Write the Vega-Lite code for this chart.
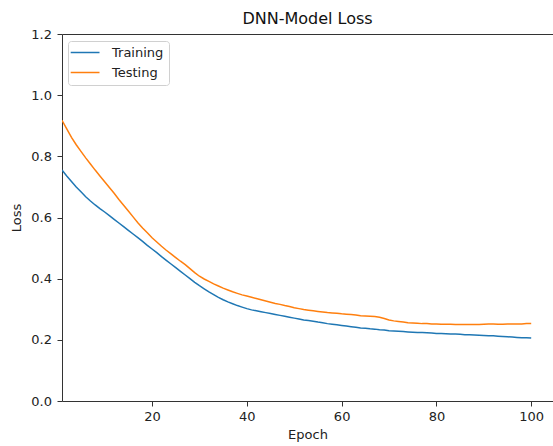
{
  "$schema": "https://vega.github.io/schema/vega-lite/v6.json",
  "autosize": {"type": "none"},
  "padding": {"left": 62, "top": 34, "right": 0, "bottom": 45},
  "width": 491,
  "height": 367,
  "background": "white",
  "title": {"text": "DNN-Model Loss", "fontSize": 16, "font": "DejaVu Sans", "fontWeight": "normal", "color": "#111", "offset": 1},
  "config": {"view": {"stroke": null}},
  "data": {"values": [
    {"epoch":1,"Training":0.755,"Testing":0.918},{"epoch":2,"Training":0.736,"Testing":0.890},{"epoch":3,"Training":0.718,"Testing":0.862},{"epoch":4,"Training":0.700,"Testing":0.838},{"epoch":5,"Training":0.684,"Testing":0.816},
    {"epoch":6,"Training":0.668,"Testing":0.795},{"epoch":7,"Training":0.654,"Testing":0.775},{"epoch":8,"Training":0.641,"Testing":0.755},{"epoch":9,"Training":0.629,"Testing":0.736},{"epoch":10,"Training":0.618,"Testing":0.717},
    {"epoch":11,"Training":0.606,"Testing":0.698},{"epoch":12,"Training":0.594,"Testing":0.679},{"epoch":13,"Training":0.582,"Testing":0.659},{"epoch":14,"Training":0.570,"Testing":0.640},{"epoch":15,"Training":0.558,"Testing":0.621},
    {"epoch":16,"Training":0.546,"Testing":0.602},{"epoch":17,"Training":0.534,"Testing":0.583},{"epoch":18,"Training":0.522,"Testing":0.566},{"epoch":19,"Training":0.509,"Testing":0.550},{"epoch":20,"Training":0.497,"Testing":0.534},
    {"epoch":21,"Training":0.485,"Testing":0.520},{"epoch":22,"Training":0.472,"Testing":0.506},{"epoch":23,"Training":0.460,"Testing":0.493},{"epoch":24,"Training":0.448,"Testing":0.481},{"epoch":25,"Training":0.436,"Testing":0.469},
    {"epoch":26,"Training":0.424,"Testing":0.457},{"epoch":27,"Training":0.412,"Testing":0.446},{"epoch":28,"Training":0.400,"Testing":0.433},{"epoch":29,"Training":0.388,"Testing":0.420},{"epoch":30,"Training":0.377,"Testing":0.408},
    {"epoch":31,"Training":0.367,"Testing":0.399},{"epoch":32,"Training":0.357,"Testing":0.391},{"epoch":33,"Training":0.348,"Testing":0.383},{"epoch":34,"Training":0.339,"Testing":0.376},{"epoch":35,"Training":0.331,"Testing":0.369},
    {"epoch":36,"Training":0.324,"Testing":0.363},{"epoch":37,"Training":0.318,"Testing":0.357},{"epoch":38,"Training":0.312,"Testing":0.352},{"epoch":39,"Training":0.307,"Testing":0.347},{"epoch":40,"Training":0.302,"Testing":0.343},
    {"epoch":41,"Training":0.298,"Testing":0.339},{"epoch":42,"Training":0.295,"Testing":0.335},{"epoch":43,"Training":0.292,"Testing":0.331},{"epoch":44,"Training":0.289,"Testing":0.327},{"epoch":45,"Training":0.286,"Testing":0.323},
    {"epoch":46,"Training":0.283,"Testing":0.319},{"epoch":47,"Training":0.280,"Testing":0.316},{"epoch":48,"Training":0.277,"Testing":0.312},{"epoch":49,"Training":0.274,"Testing":0.309},{"epoch":50,"Training":0.271,"Testing":0.305},
    {"epoch":51,"Training":0.268,"Testing":0.302},{"epoch":52,"Training":0.265,"Testing":0.299},{"epoch":53,"Training":0.263,"Testing":0.297},{"epoch":54,"Training":0.261,"Testing":0.295},{"epoch":55,"Training":0.258,"Testing":0.293},
    {"epoch":56,"Training":0.256,"Testing":0.291},{"epoch":57,"Training":0.253,"Testing":0.289},{"epoch":58,"Training":0.251,"Testing":0.288},{"epoch":59,"Training":0.249,"Testing":0.287},{"epoch":60,"Training":0.247,"Testing":0.285},
    {"epoch":61,"Training":0.245,"Testing":0.284},{"epoch":62,"Training":0.243,"Testing":0.283},{"epoch":63,"Training":0.241,"Testing":0.281},{"epoch":64,"Training":0.239,"Testing":0.279},{"epoch":65,"Training":0.238,"Testing":0.278},
    {"epoch":66,"Training":0.236,"Testing":0.277},{"epoch":67,"Training":0.235,"Testing":0.276},{"epoch":68,"Training":0.233,"Testing":0.274},{"epoch":69,"Training":0.232,"Testing":0.270},{"epoch":70,"Training":0.230,"Testing":0.265},
    {"epoch":71,"Training":0.229,"Testing":0.262},{"epoch":72,"Training":0.228,"Testing":0.260},{"epoch":73,"Training":0.227,"Testing":0.258},{"epoch":74,"Training":0.226,"Testing":0.256},{"epoch":75,"Training":0.225,"Testing":0.255},
    {"epoch":76,"Training":0.224,"Testing":0.254},{"epoch":77,"Training":0.224,"Testing":0.253},{"epoch":78,"Training":0.223,"Testing":0.253},{"epoch":79,"Training":0.222,"Testing":0.252},{"epoch":80,"Training":0.221,"Testing":0.252},
    {"epoch":81,"Training":0.221,"Testing":0.251},{"epoch":82,"Training":0.220,"Testing":0.251},{"epoch":83,"Training":0.219,"Testing":0.251},{"epoch":84,"Training":0.219,"Testing":0.250},{"epoch":85,"Training":0.218,"Testing":0.250},
    {"epoch":86,"Training":0.217,"Testing":0.250},{"epoch":87,"Training":0.217,"Testing":0.250},{"epoch":88,"Training":0.216,"Testing":0.250},{"epoch":89,"Training":0.215,"Testing":0.250},{"epoch":90,"Training":0.214,"Testing":0.251},
    {"epoch":91,"Training":0.213,"Testing":0.252},{"epoch":92,"Training":0.213,"Testing":0.252},{"epoch":93,"Training":0.212,"Testing":0.251},{"epoch":94,"Training":0.211,"Testing":0.251},{"epoch":95,"Training":0.210,"Testing":0.252},
    {"epoch":96,"Training":0.209,"Testing":0.252},{"epoch":97,"Training":0.208,"Testing":0.252},{"epoch":98,"Training":0.207,"Testing":0.252},{"epoch":99,"Training":0.207,"Testing":0.253},{"epoch":100,"Training":0.206,"Testing":0.253}
  ]},
  "transform": [{"fold": ["Training", "Testing"], "as": ["series", "loss"]}],
  "layer": [
    {
      "mark": {"type": "line", "strokeWidth": 1.5, "clip": true},
      "encoding": {
        "x": {"field": "epoch", "type": "quantitative",
          "scale": {"domain": [1, 104.6], "nice": false, "zero": false},
          "axis": {"values": [20, 40, 60, 80, 100], "title": "Epoch", "grid": false, "domainColor": "#333", "tickColor": "#333", "tickSize": 5, "labelFont": "DejaVu Sans", "labelFontSize": 13, "labelColor": "#222", "labelPadding": 4, "titleFont": "DejaVu Sans", "titleFontSize": 13, "titleFontWeight": "normal", "titleColor": "#222", "titlePadding": 5}},
        "y": {"field": "loss", "type": "quantitative",
          "scale": {"domain": [0, 1.2], "nice": false, "zero": false},
          "axis": {"values": [0, 0.2, 0.4, 0.6, 0.8, 1.0, 1.2], "format": ".1f", "title": "Loss", "grid": false, "domainColor": "#333", "tickColor": "#333", "tickSize": 5, "labelFont": "DejaVu Sans", "labelFontSize": 13, "labelColor": "#222", "labelPadding": 5.5, "titleFont": "DejaVu Sans", "titleFontSize": 13, "titleFontWeight": "normal", "titleColor": "#222", "titlePadding": 7}},
        "color": {"field": "series", "type": "nominal",
          "scale": {"domain": ["Training", "Testing"], "range": ["#1f77b4", "#ff7f0e"]},
          "legend": {"title": null, "orient": "none", "legendX": 6, "legendY": 7, "fillColor": "white", "strokeColor": "#d0d0d0", "cornerRadius": 3, "padding": 5, "symbolType": "M-2.2,0H5", "symbolStrokeWidth": 1.5, "symbolSize": 64, "labelFont": "DejaVu Sans", "labelFontSize": 13, "labelColor": "#222", "labelOffset": 26, "rowPadding": 6}}
      }
    },
    {
      "mark": {"type": "line", "opacity": 0},
      "encoding": {
        "x": {"field": "epoch", "type": "quantitative",
          "scale": {"domain": [1, 104.6], "nice": false, "zero": false},
          "axis": {"orient": "top", "labels": false, "ticks": false, "title": null, "grid": false, "domainColor": "#333"}},
        "y": {"field": "loss", "type": "quantitative"}
      }
    }
  ],
  "resolve": {"axis": {"x": "independent"}}
}
